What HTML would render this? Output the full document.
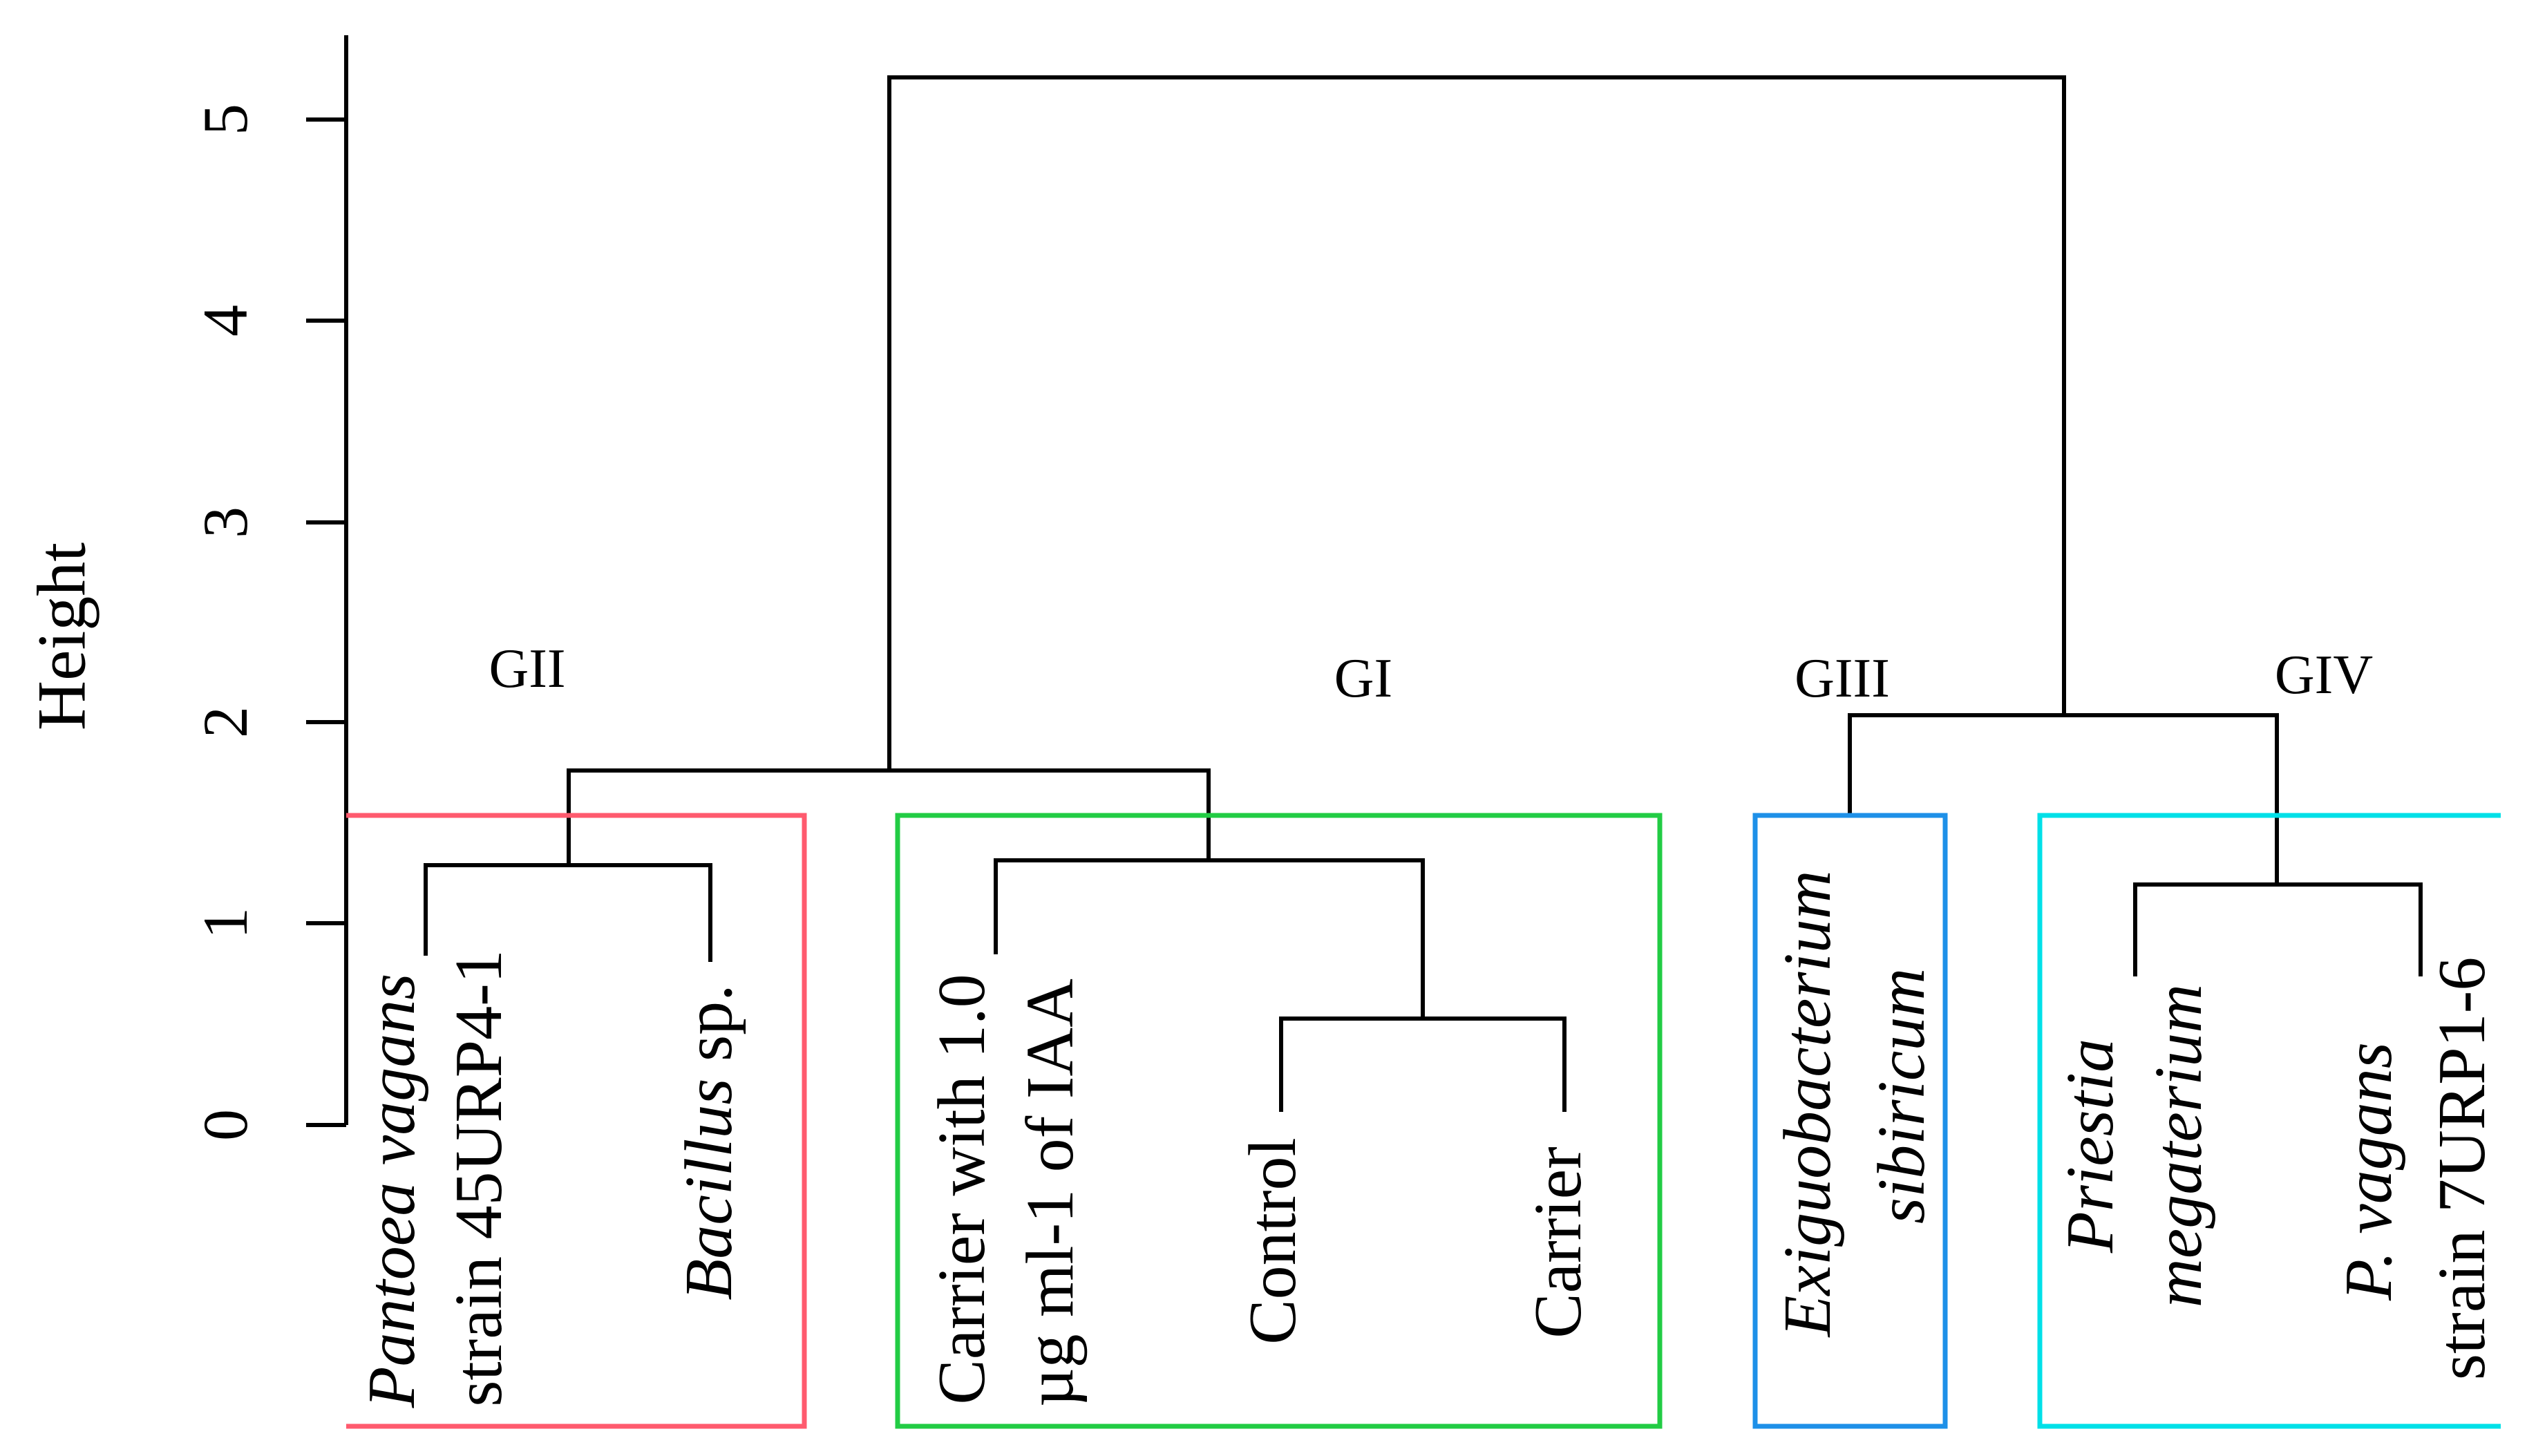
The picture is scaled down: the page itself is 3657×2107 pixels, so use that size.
<!DOCTYPE html>
<html><head><meta charset="utf-8"><style>html,body{margin:0;padding:0;background:#fff}svg{display:block}</style></head>
<body>
<svg width="3657" height="2107" viewBox="0 0 3657 2107" xmlns="http://www.w3.org/2000/svg" font-family="Liberation Serif, serif">
<g stroke="#000" stroke-width="6" fill="none">
<path d="M501 51 V1628"/>
<path d="M443 1628H501 M443 1336H501 M443 1045H501 M443 756H501 M443 464H501 M443 173H501"/>
<path d="M1287 1115 V112 H2987 V1035"/>
<path d="M823 1252 V1115 H1749 V1245"/>
<path d="M616 1383 V1252 H1028 V1392"/>
<path d="M1441 1381 V1245 H2059 V1474"/>
<path d="M1854 1609 V1474 H2264 V1609"/>
<path d="M2677 1180 V1035 H3295 V1280"/>
<path d="M3090 1413 V1280 H3503 V1413"/>
</g>
<g fill="none" stroke-width="7">
<path d="M501 1180 H1164 V2064 H501" stroke="#ff5a6e"/>
<rect x="1299" y="1180" width="1103" height="884" stroke="#22cc44"/>
<rect x="2540" y="1180" width="275" height="884" stroke="#1e90e8"/>
<path d="M3619 1180 H2952 V2064 H3619" stroke="#00e0e8"/>
</g>
<g font-size="92" text-anchor="middle" dominant-baseline="central">
<text transform="translate(326,1628) rotate(-90)">0</text>
<text transform="translate(326,1336) rotate(-90)">1</text>
<text transform="translate(326,1045) rotate(-90)">2</text>
<text transform="translate(326,756) rotate(-90)">3</text>
<text transform="translate(326,464) rotate(-90)">4</text>
<text transform="translate(326,173) rotate(-90)">5</text>
<text transform="translate(89,921) rotate(-90)" font-size="100">Height</text>
</g>
<g font-size="80" text-anchor="middle" dominant-baseline="central">
<text x="763" y="968">GII</text>
<text x="1973" y="982">GI</text>
<text x="2666" y="982">GIII</text>
<text x="3363" y="977">GIV</text>
</g>
<g font-size="98" text-anchor="middle" dominant-baseline="central">
<text transform="translate(567,1723) rotate(-90)" font-style="italic">Pantoea vagans</text>
<text transform="translate(693,1705) rotate(-90)">strain 45URP4-1</text>
<text transform="translate(1026,1653) rotate(-90)"><tspan font-style="italic">Bacillus</tspan> sp.</text>
<text transform="translate(1392,1721) rotate(-90)">Carrier with 1.0</text>
<text transform="translate(1520,1726) rotate(-90)">µg ml-1 of IAA</text>
<text transform="translate(1842,1796) rotate(-90)">Control</text>
<text transform="translate(2255,1798) rotate(-90)">Carrier</text>
<text transform="translate(2616,1597) rotate(-90)" font-style="italic">Exiguobacterium</text>
<text transform="translate(2752,1586) rotate(-90)" font-style="italic">sibiricum</text>
<text transform="translate(3025,1658) rotate(-90)" font-style="italic">Priestia</text>
<text transform="translate(3153,1658) rotate(-90)" font-style="italic">megaterium</text>
<text transform="translate(3428,1695) rotate(-90)" font-style="italic">P. vagans</text>
<text transform="translate(3563,1691) rotate(-90)">strain 7URP1-6</text>
</g>
</svg>
</body></html>
